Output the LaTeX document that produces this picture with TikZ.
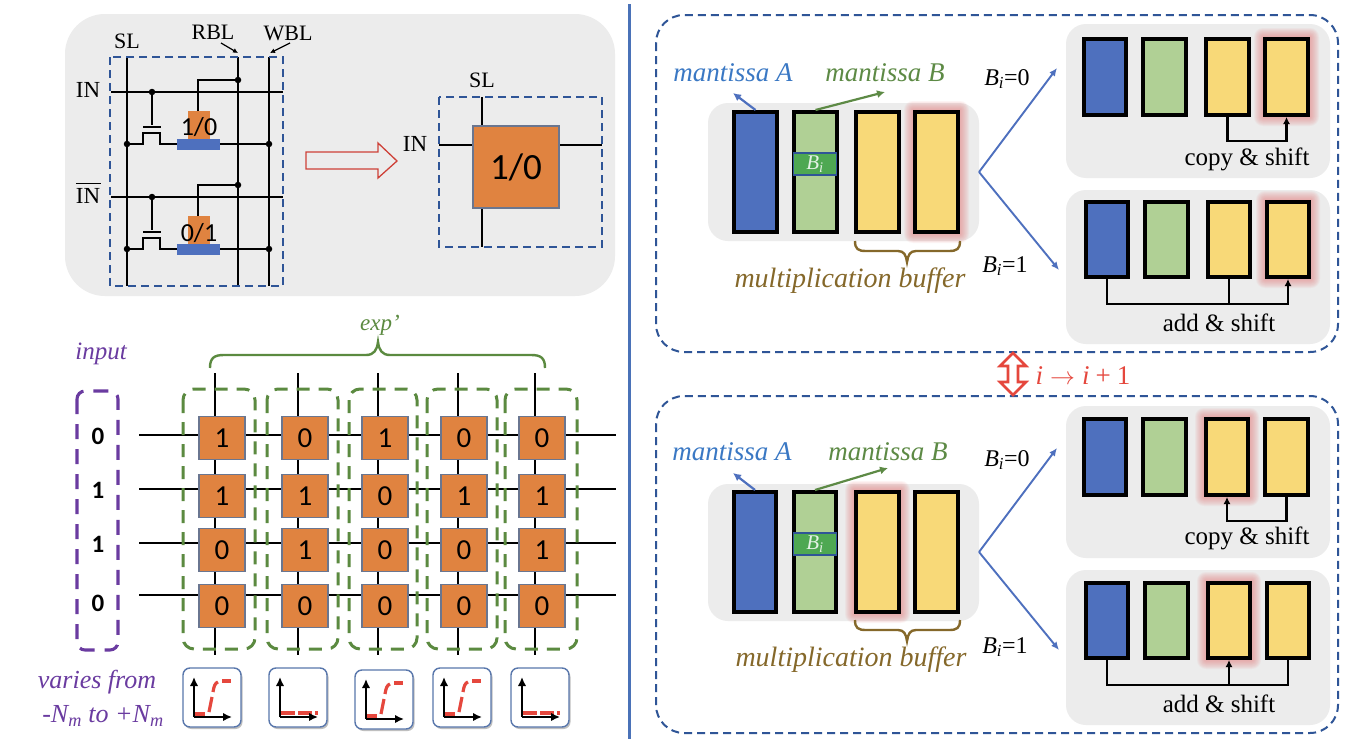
\documentclass[tikz,border=0pt]{standalone}
\usepackage{fontspec}
\setmainfont{Liberation Serif}
\newfontfamily\digitfont{Carlito}
\usetikzlibrary{arrows.meta,calc}
\definecolor{panelgray}{HTML}{ECECEC}
\definecolor{navy}{HTML}{2F5597}
\definecolor{barblue}{HTML}{4E70BE}
\definecolor{bargreen}{HTML}{B0D095}
\definecolor{baryellow}{HTML}{F8D978}
\definecolor{bitgreen}{HTML}{4EA852}
\definecolor{cellorange}{HTML}{E08340}
\definecolor{cellborder}{HTML}{6A7690}
\definecolor{dashgreen}{HTML}{5B8A40}
\definecolor{inpurple}{HTML}{6A3BA0}
\definecolor{textblue}{HTML}{3A78C4}
\definecolor{textgreen}{HTML}{5D8A45}
\definecolor{olive}{HTML}{85682A}
\definecolor{alertred}{HTML}{E5473D}
\definecolor{glowred}{HTML}{E67C7C}
\definecolor{dividerblue}{HTML}{4A72B8}
\tikzset{
  panel/.style={fill=panelgray,draw=none},
  wire/.style={draw=black,line width=2.5pt},
  gridwire/.style={draw=black,line width=2.7pt},
  dot/.style={circle,fill=black,inner sep=0pt,minimum size=6.5pt},
  barbase/.style={draw=black,line width=3.6pt,inner sep=0pt,outer sep=1.8pt},
  cellnode/.style={fill=cellorange,draw=cellborder,line width=1.2pt,inner sep=0pt,minimum width=46pt,minimum height=43pt,font=\digitfont\fontsize{29}{29}\selectfont},
  link/.style={draw=black,line width=2.5pt},
  linkarrow/.style={link,-{Latex[length=7pt,width=7pt]}},
  lbl/.style={inner sep=0pt,font=\fontsize{#1}{#1}\selectfont},
  ilbl/.style={inner sep=0pt,font=\itshape\fontsize{#1}{#1}\selectfont},
  bigdash/.style={draw=navy,line width=2pt,dash pattern=on 8pt off 5pt},
  gdash/.style={draw=dashgreen,line width=3pt,dash pattern=on 13pt off 9pt,rounded corners=11pt},
  pdash/.style={draw=inpurple,line width=3.1pt,dash pattern=on 15pt off 10pt,rounded corners=8pt},
  iconbox/.style={fill=white,draw=navy!80,line width=1.4pt,rounded corners=7pt},
  axis/.style={draw=black,line width=2.7pt,-{Latex[length=9pt,width=8.5pt]}},
  curve/.style={draw=alertred,line width=3.2pt},
}
\newcommand{\rectbar}[6]{\node[barbase,fill=#6,minimum width={(#4-#2-3.6)*1pt},minimum height={(#5-#3-3.6)*1pt}] (#1) at ({(#2+#4)/2},{(#3+#5)/2}) {};}
\newcommand{\glowrect}[4]{%
  \foreach \g in {9,8,7,6,5,4,3,2,1}{%
    \fill[glowred,opacity=.08,rounded corners=\g pt] ({#1-\g},{#2-\g}) rectangle ({#3+\g},{#4+\g});}}
\newcommand{\bival}{\textit{B}\textsubscript{\textit{i}}}
\newcommand{\icon}[5]{% name, x1, y1, up(1)/flat(0)
  \fill[black!25,rounded corners=7pt] ({#2+1.5},{#3+2}) rectangle ({#2+59.5},{#3+61});
  \draw[iconbox] (#2,#3) rectangle ({#2+58},{#3+59});
  \coordinate (#1o) at ({#2+11},{#3+49});
  \coordinate (#1u) at ({#2+11},{#3+9});
  \coordinate (#1r) at ({#2+49},{#3+49});
  \ifnum#4=1
    \draw[curve] ({#2+11},{#3+46}) -- ({#2+22},{#3+46});
    \draw[curve] ({#2+26},{#3+44}) -- ({#2+29},{#3+29});
    \draw[curve] ({#2+30},{#3+24}) .. controls ({#2+31},{#3+18}) and ({#2+32},{#3+15}) .. ({#2+35},{#3+14});
    \draw[curve] ({#2+39},{#3+13}) -- ({#2+48},{#3+13});
  \else
    \draw[curve] ({#2+11},{#3+45}) -- ({#2+26},{#3+45});
    \draw[curve] ({#2+29},{#3+45}) -- ({#2+43},{#3+45});
    \draw[curve] ({#2+46},{#3+45}) -- ({#2+49},{#3+45});
  \fi
  \draw[axis] (#1o) -- (#1u);
  \draw[axis] (#1o) -- (#1r);
}
\begin{document}
\begin{tikzpicture}[x=1pt,y=-1pt]
\useasboundingbox (0,0) rectangle (1360,739);
\fill[white] (0,0) rectangle (1360,739);

% ---------- top-left panel
\fill[panel,rounded corners=40pt] (65,14) rectangle (615,296);
\coordinate (slT) at (127,57); \coordinate (slB) at (127,286);
\coordinate (rbT) at (238,57); \coordinate (rbB) at (238,286);
\coordinate (wbT) at (269,57); \coordinate (wbB) at (269,286);
\draw[wire] (slT) -- (slB);
\draw[wire] (rbT) -- (rbB);
\draw[wire] (wbT) -- (wbB);
\foreach \nm/\o in {a/0,b/105}{
  \coordinate (\nm inL) at (111,92+\o);
  \coordinate (\nm inR) at (283,92+\o);
  \draw[wire] (\nm inL) -- (\nm inR);
  \fill[cellorange] (188,111+\o) rectangle (210,139+\o);
  \fill[barblue] (177,139+\o) rectangle (220,150+\o);
  \node[dot] (\nm gtop) at (152,92+\o) {};
  \node[dot] (\nm sl) at (127,144+\o) {};
  \node[dot] (\nm wb) at (269,144+\o) {};
  \node[dot] (\nm rb) at (238,80+\o) {};
  \coordinate (\nm gbot) at (152,125+\o);
  \draw[wire] (\nm gtop) -- (\nm gbot);
  \draw[wire] (143,127+\o) -- (161,127+\o);
  \draw[wire] (\nm sl) -- (143,144+\o) -- (143,133+\o) -- (160,133+\o) -- (160,144+\o) -- (177,144+\o);
  \draw[wire] (220,144+\o) -- (\nm wb);
  \draw[wire] (198,111+\o) -- (198,80+\o) -- (\nm rb);
}
\node[font=\digitfont\fontsize{26}{26}\selectfont,inner sep=0pt] (cellA) at (199,127) {1/0};
\node[font=\digitfont\fontsize{26}{26}\selectfont,inner sep=0pt] (cellB) at (199,233) {0/1};
\draw[bigdash] (110,57) rectangle (283,286);
\node[lbl=22] (tSL) at (127,41) {SL};
\node[lbl=22] (tRBL) at (213,32) {RBL};
\node[lbl=22] (tWBL) at (288,33) {WBL};
\node[lbl=23,anchor=base] (tIN) at (88,97) {IN};
\node[lbl=23,anchor=base] (tINb) at (88,203) {\rlap{\rule[19pt]{25pt}{1pt}}IN};
\draw[black,line width=1.2pt,-{Latex[length=5pt,width=5pt]}] (221,43) -- (238,53);
\draw[black,line width=1.2pt,-{Latex[length=5pt,width=5pt]}] (290,43) -- (270,53);

% big arrow
\draw[alertred!90!black,line width=1.3pt,fill=panelgray] (306,152) -- (378,152) -- (378,143) -- (397,161) -- (378,178) -- (378,169) -- (306,169) -- cycle;

% simplified cell
\coordinate (r2T) at (482,97); \coordinate (r2B) at (482,247);
\coordinate (r2L) at (439,145); \coordinate (r2R) at (602,145);
\draw[wire] (r2T) -- (r2B);
\draw[wire] (r2L) -- (r2R);
\node[fill=cellorange,draw=cellborder,line width=1.2pt,inner sep=0pt,minimum width=86pt,minimum height=82pt,font=\digitfont\fontsize{37}{37}\selectfont] (bigcell) at (516,167) {1/0};
\draw[bigdash] (439,97) rectangle (602,247);
\node[lbl=22] (tSL2) at (482,80) {SL};
\node[lbl=23] (tIN2) at (415,144) {IN};

% ---------- grid
\foreach \r/\y in {1/435,2/489,3/543,4/595}{
  \coordinate (hL\r) at (139,\y); \coordinate (hR\r) at (616,\y);
  \draw[gridwire] (hL\r) -- (hR\r);
}
\foreach \c/\x in {1/215,2/298,3/378,4/458,5/535}{
  \coordinate (vT\c) at (\x,373); \coordinate (vB\c) at (\x,655);
  \draw[gridwire] (vT\c) -- (vB\c);
}
\foreach \c/\x in {1/222,2/305,3/385,4/464,5/542}{
  \foreach \r/\y in {1/438,2/496,3/550,4/606}{
    \coordinate (p\r\c) at (\x,\y);
  }
}
\node[cellnode] (c11) at (p11) {1}; \node[cellnode] (c12) at (p12) {0}; \node[cellnode] (c13) at (p13) {1}; \node[cellnode] (c14) at (p14) {0}; \node[cellnode] (c15) at (p15) {0};
\node[cellnode] (c21) at (p21) {1}; \node[cellnode] (c22) at (p22) {1}; \node[cellnode] (c23) at (p23) {0}; \node[cellnode] (c24) at (p24) {1}; \node[cellnode] (c25) at (p25) {1};
\node[cellnode] (c31) at (p31) {0}; \node[cellnode] (c32) at (p32) {1}; \node[cellnode] (c33) at (p33) {0}; \node[cellnode] (c34) at (p34) {0}; \node[cellnode] (c35) at (p35) {1};
\node[cellnode] (c41) at (p41) {0}; \node[cellnode] (c42) at (p42) {0}; \node[cellnode] (c43) at (p43) {0}; \node[cellnode] (c44) at (p44) {0}; \node[cellnode] (c45) at (p45) {0};
\foreach \a/\b in {183/255,267/338,349/417,427/497,505/577}{
  \draw[gdash] (\a,389) rectangle (\b,649);
}
\draw[pdash] (77,391) rectangle (118,650);
\foreach \nm/\v/\y in {i1/0/436,i2/1/490,i3/1/544,i4/0/603}{
  \node[font=\digitfont\bfseries\fontsize{25}{25}\selectfont,inner sep=0pt] (\nm) at (98,\y) {\v};
}
\draw[dashgreen,line width=2.4pt] (210,368) .. controls (210,358) and (214,355) .. (224,355) -- (366,355) .. controls (374,355) and (377,350) .. (378,342) .. controls (379,350) and (382,355) .. (390,355) -- (531,355) .. controls (541,355) and (545,358) .. (545,368);
\node[ilbl=23,text=dashgreen] (texp) at (380,325) {exp'};
\node[ilbl=25,text=inpurple] (tinput) at (101,354) {input};
\node[ilbl=26,text=inpurple] (tvar) at (97,682) {varies from};
\node[ilbl=26,text=inpurple] (tvar2) at (103,716) {-N\textsubscript{\textit{m}} to +N\textsubscript{\textit{m}}};
\icon{ia}{183}{668}{1}{}
\icon{ib}{269}{668}{0}{}
\icon{ic}{355}{670}{1}{}
\icon{id}{433}{668}{1}{}
\icon{ie}{511}{668}{0}{}

% divider
\coordinate (divT) at (629,4); \coordinate (divB) at (629,739);
\draw[dividerblue,line width=3pt] (divT) -- (divB);

% ---------- top right block
\draw[bigdash,rounded corners=28pt] (656,15) rectangle (1338,352);
\draw[bigdash,rounded corners=28pt] (656,396) rectangle (1338,733);

% inner block 1
\fill[panel,rounded corners=20pt] (708,103) rectangle (979,241);
\glowrect{913}{110}{960}{234}
\rectbar{A1}{732}{110}{779}{234}{barblue}
\rectbar{B1}{792}{110}{839}{234}{bargreen}
\rectbar{Y1}{854}{110}{901}{234}{baryellow}
\rectbar{Z1}{913}{110}{960}{234}{baryellow}
\node[fill=bitgreen,draw=navy,line width=1.2pt,inner sep=0pt,minimum width=43pt,minimum height=22pt,text=white!85!bitgreen,font=\fontsize{21}{21}\selectfont] (Bi1) at (815,164) {\bival};
\draw[barblue,line width=2.2pt,-{Latex[length=8pt,width=8pt]}] (A1.north) -- (733,93);
\draw[textgreen,line width=2.2pt,-{Latex[length=8pt,width=8pt]}] (B1.north) -- (885,92);
\node[ilbl=27,text=textblue] (mA1) at (733,73) {mantissa A};
\node[ilbl=27,text=textgreen] (mB1) at (885,73) {mantissa B};
\draw[olive,line width=2.4pt] (855,241) .. controls (855,249) and (858,251) .. (866,251) -- (898,251) .. controls (904,251) and (906,255) .. (907,262) .. controls (908,255) and (910,251) .. (916,251) -- (949,251) .. controls (957,251) and (960,249) .. (960,241);
\node[ilbl=28,text=olive] (mb1) at (850,281) {multiplication buffer};
\coordinate (fork1) at (979,172);
\coordinate (to10) at (1057,68);
\coordinate (to11) at (1059,270);
\draw[barblue,line width=1.9pt,-{Latex[length=8pt,width=7pt]}] (fork1) -- (to10);
\draw[barblue,line width=1.9pt,-{Latex[length=8pt,width=7pt]}] (fork1) -- (to11);
\node[lbl=24] (b10) at (1007,79) {\bival{}=0};
\node[lbl=24] (b11) at (1005,266) {\bival{}=1};

% panel copy & shift 1
\fill[panel,rounded corners=20pt] (1066,24) rectangle (1330,178);
\glowrect{1263}{37}{1310}{117}
\rectbar{A2}{1082}{37}{1128}{117}{barblue}
\rectbar{B2}{1141}{37}{1188}{117}{bargreen}
\rectbar{Y2}{1204}{37}{1251}{117}{baryellow}
\rectbar{Z2}{1263}{37}{1310}{117}{baryellow}
\draw[linkarrow] (Y2.south) -- ++(0,24) -| (Z2.south);
\node[lbl=25] (cs1) at (1247,159) {copy \& shift};

% panel add & shift 1
\fill[panel,rounded corners=20pt] (1066,190) rectangle (1330,344);
\glowrect{1265}{200}{1311}{279}
\rectbar{A3}{1084}{200}{1130}{279}{barblue}
\rectbar{B3}{1143}{200}{1190}{279}{bargreen}
\rectbar{Y3}{1206}{200}{1252}{279}{baryellow}
\rectbar{Z3}{1265}{200}{1311}{279}{baryellow}
\draw[linkarrow] (A3.south) -- ++(0,25) -| (Z3.south);
\draw[link] (Y3.south) -- ++(0,25);
\node[lbl=25] (as1) at (1219,323) {add \& shift};

% transition
\coordinate (dblT) at (1013,353); \coordinate (dblB) at (1013,395);
\draw[alertred,line width=2.6pt,fill=white,line join=miter] (dblT) -- (1026,366) -- (1018,366) -- (1018,382) -- (1026,382) -- (dblB) -- (1000,382) -- (1008,382) -- (1008,366) -- (1000,366) -- cycle;
\node[font=\fontsize{27}{27}\selectfont,inner sep=0pt,text=alertred] (iter) at (1083,376) {\textit{i}\hspace{7pt}$\rightarrow$\hspace{7pt}\textit{i}\hspace{6pt}+\hspace{6pt}1};

% inner block 2
\fill[panel,rounded corners=20pt] (708,484) rectangle (979,621);
\glowrect{854}{490}{901}{614}
\rectbar{A4}{732}{490}{778}{614}{barblue}
\rectbar{B4}{792}{490}{838}{614}{bargreen}
\rectbar{Y4}{854}{490}{901}{614}{baryellow}
\rectbar{Z4}{913}{490}{960}{614}{baryellow}
\node[fill=bitgreen,draw=navy,line width=1.2pt,inner sep=0pt,minimum width=43pt,minimum height=22pt,text=white!85!bitgreen,font=\fontsize{21}{21}\selectfont] (Bi2) at (815,544) {\bival};
\draw[barblue,line width=2.2pt,-{Latex[length=8pt,width=8pt]}] (A4.north) -- (733,473);
\draw[textgreen,line width=2.2pt,-{Latex[length=8pt,width=8pt]}] (B4.north) -- (888,468);
\node[ilbl=27,text=textblue] (mA2) at (732,452) {mantissa A};
\node[ilbl=27,text=textgreen] (mB2) at (888,452) {mantissa B};
\draw[olive,line width=2.4pt] (855,620) .. controls (855,628) and (858,630) .. (866,630) -- (898,630) .. controls (904,630) and (906,634) .. (907,641) .. controls (908,634) and (910,630) .. (916,630) -- (949,630) .. controls (957,630) and (960,628) .. (960,620);
\node[ilbl=28,text=olive] (mb2) at (851,660) {multiplication buffer};
\coordinate (fork2) at (979,552);
\coordinate (to20) at (1057,448);
\coordinate (to21) at (1059,650);
\draw[barblue,line width=1.9pt,-{Latex[length=8pt,width=7pt]}] (fork2) -- (to20);
\draw[barblue,line width=1.9pt,-{Latex[length=8pt,width=7pt]}] (fork2) -- (to21);
\node[lbl=24] (b20) at (1007,460) {\bival{}=0};
\node[lbl=24] (b21) at (1005,647) {\bival{}=1};

% panel copy & shift 2
\fill[panel,rounded corners=20pt] (1066,406) rectangle (1330,558);
\glowrect{1204}{417}{1250}{497}
\rectbar{A5}{1082}{417}{1128}{497}{barblue}
\rectbar{B5}{1141}{417}{1188}{497}{bargreen}
\rectbar{Y5}{1204}{417}{1250}{497}{baryellow}
\rectbar{Z5}{1263}{417}{1310}{497}{baryellow}
\draw[linkarrow] (Z5.south) -- ++(0,24) -| (Y5.south);
\node[lbl=25] (cs2) at (1247,538) {copy \& shift};

% panel add & shift 2
\fill[panel,rounded corners=20pt] (1066,570) rectangle (1330,725);
\glowrect{1206}{581}{1252}{660}
\rectbar{A6}{1084}{581}{1130}{660}{barblue}
\rectbar{B6}{1143}{581}{1190}{660}{bargreen}
\rectbar{Y6}{1206}{581}{1252}{660}{baryellow}
\rectbar{Z6}{1265}{581}{1311}{660}{baryellow}
\draw[link] (A6.south) -- ++(0,25) -| (Z6.south);
\draw[linkarrow] ([yshift=-25pt]Y6.south) -- (Y6.south);
\node[lbl=25] (as2) at (1219,704) {add \& shift};
\end{tikzpicture}
\end{document}
